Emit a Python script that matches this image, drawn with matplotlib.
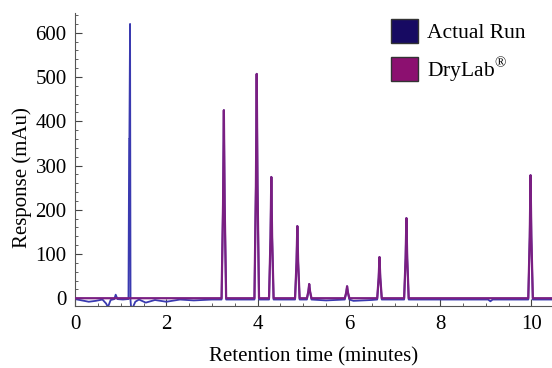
import numpy as np
from matplotlib import pyplot as plt
from matplotlib.patches import Patch
from matplotlib.ticker import MultipleLocator

plt.rcParams["font.family"] = ["Liberation Serif", "DejaVu Serif"]
plt.rcParams["mathtext.fontset"] = "custom"
plt.rcParams["mathtext.rm"] = "Liberation Serif"

# Peaks common to both traces (retention time [min], response [mAu])
peak_t = [3.26, 3.98, 4.30, 4.87, 5.13, 5.96, 6.67, 7.26, 9.98]
peak_h = [425, 507, 274, 163, 32, 27, 93, 181, 278]

# Actual run baseline
base_t = [0.00, 0.15, 0.30, 0.45, 0.60, 0.68, 0.72, 0.78, 0.86, 0.89, 0.93, 1.05, 1.15]
base_y = [-2, -5, -8, -6, -3, -12, -20, -4, -2, 8, -2, -3, -2]
# first (void) peak of the actual run
void_t = [1.17, 1.185, 1.19, 1.205, 1.215, 1.235, 1.26, 1.32, 1.40, 1.55, 1.75, 2.0, 2.3, 2.6, 3.0]
void_y = [-2, 360, 360, 620, -5, -30, -22, -8, -3, -10, -4, -8, -3, -5, -3]
# late baseline of the actual run (between the peaks)
late_t = [5.0, 5.5, 6.1, 6.5, 8.0, 9.05, 9.1, 9.15, 10.45]
late_y = [-3, -5, -6, -4, -3, -3, -7, -3, -3]

w = 0.05  # half width of peak base

def peak_vertices(ts, hs, offset):
    t, y = [], []
    for pt, ph in zip(ts, hs):
        t += [pt - w, pt - w * 0.35, pt, pt + w * 0.35, pt + w]
        y += [offset, ph * 0.5, ph, ph * 0.5, offset]
    return t, y

# DryLab trace
dt, dy = peak_vertices(peak_t, peak_h, 0)
dry_t = [0.0] + dt + [10.45]
dry_y = [0] + dy + [0]

# Actual run trace
at, ay = peak_vertices(peak_t, peak_h, -3)
act = sorted(zip(base_t + void_t + at + late_t, base_y + void_y + ay + late_y))
act_t = [p[0] for p in act]
act_y = [p[1] for p in act]

fig = plt.figure(figsize=(5.52, 3.68), dpi=100)
ax = fig.add_axes([0.136, 0.168, 0.864, 0.797])

blue = "#3a3ab0"
purple = "#7a1f82"
ax.plot(act_t, act_y, color=blue, lw=1.3, zorder=2)
ax.plot(dry_t, dry_y, color=purple, lw=1.6, zorder=3)

ax.set_xlim(0, 10.45)
ax.set_ylim(-18, 645)
ax.xaxis.set_major_locator(MultipleLocator(2))
ax.xaxis.set_minor_locator(MultipleLocator(0.5))
ax.yaxis.set_major_locator(MultipleLocator(100))
ax.yaxis.set_minor_locator(MultipleLocator(20))
ax.tick_params(which="both", direction="in", labelsize=15, color="#444444")
ax.tick_params(which="major", length=5, pad=6)
ax.tick_params(which="minor", length=2.5)
for s in ["top", "right"]:
    ax.spines[s].set_visible(False)
for s in ["left", "bottom"]:
    ax.spines[s].set_color("#555555")

ax.set_xlabel("Retention time (minutes)", fontsize=15, labelpad=10)
ax.set_ylabel("Response (mAu)", fontsize=15)
ax.yaxis.set_label_coords(-0.09, 0.44)

handles = [Patch(facecolor="#170a62", edgecolor="#333333", label="Actual Run"),
           Patch(facecolor="#8c1070", edgecolor="#333333", label="DryLab$^{\u00ae}$")]
fig.legend(handles=handles, loc="upper left", bbox_to_anchor=(0.708, 0.948),
           frameon=False, fontsize=15.5, handlelength=1.25, handleheight=1.35,
           labelspacing=0.55, handletextpad=0.45, borderaxespad=0.0, borderpad=0.0)

plt.savefig("out.png", dpi=100)
